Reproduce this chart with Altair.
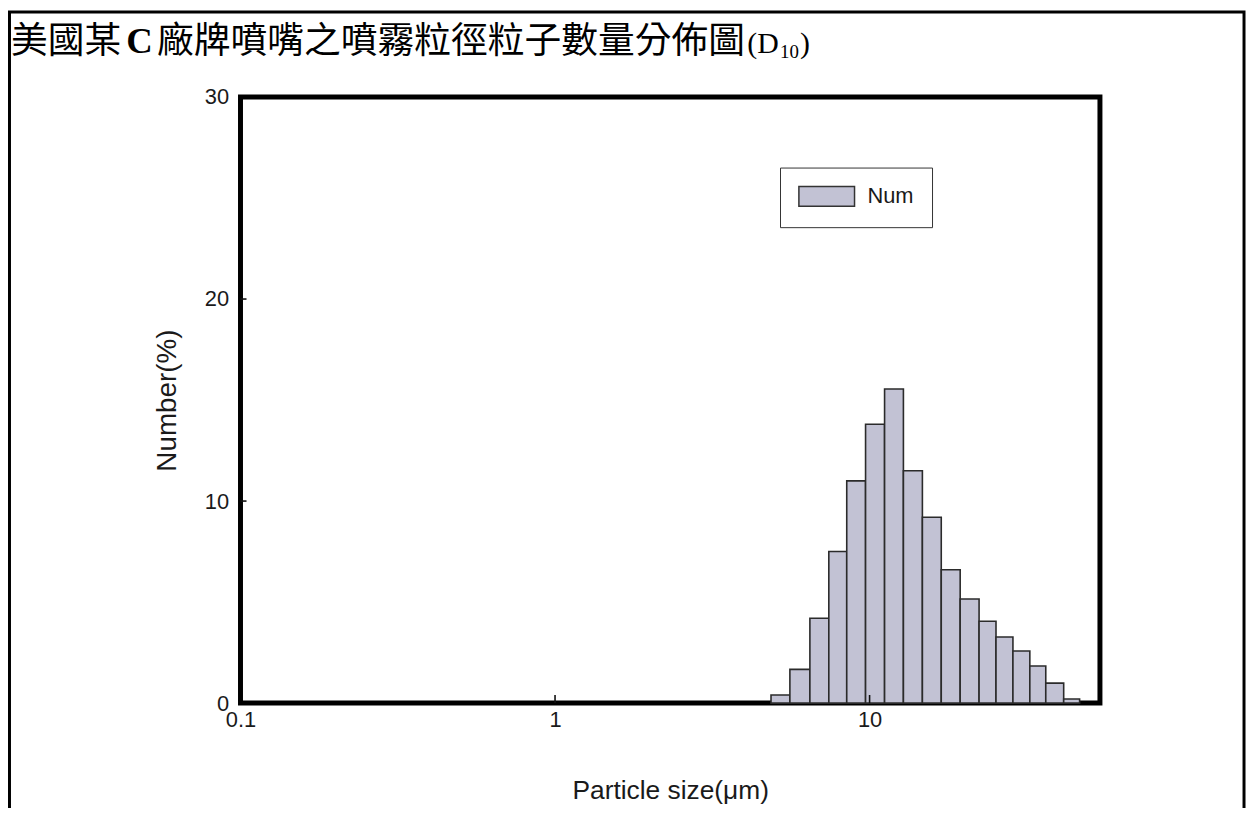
import altair as alt
import pandas as pd

# ---- data ----
bin_edges = [4.86, 5.58, 6.46, 7.42, 8.46, 9.71, 11.16, 12.81, 14.72, 16.90,
             19.41, 22.29, 25.23, 28.56, 32.32, 36.32, 41.41, 46.53]
number_pct = [0.4, 1.67, 4.2, 7.5, 11.0, 13.8, 15.55, 11.5, 9.2, 6.6,
              5.15, 4.05, 3.27, 2.58, 1.84, 0.99, 0.2]
series_name = "Num"
x_tick_values = [0.1, 1, 10]
y_tick_values = [0, 10, 20, 30]
x_inner_ticks = [1, 10]
y_inner_ticks = [10, 20]

title_parts = ["美國某", "C", "廠牌噴嘴之噴霧粒徑粒子數量分佈圖", "(D", "10", ")"]

LEFT, TOP = 234, 87
W, H = 865, 610
FONT = "Liberation Sans"
PX = 8 + LEFT   # page x of plot origin
PY = 8 + TOP    # page y of plot origin

bars = pd.DataFrame({
    "lo": bin_edges[:-1],
    "hi": bin_edges[1:],
    "num": number_pct,
    "base": [0] * len(number_pct),
    "series": [series_name] * len(number_pct),
})

xscale = alt.Scale(type="log", domain=[0.1, 54], nice=False)
yscale = alt.Scale(domain=[0, 30], nice=False)

bar = alt.Chart(bars).mark_rect(stroke="#2b2b2b", strokeWidth=1.6).encode(
    x=alt.X("lo:Q", scale=xscale,
            axis=alt.Axis(values=x_tick_values, format="~g", title="Particle size(μm)",
                          labelFont=FONT, labelFontSize=22, labelColor="#1a1a1a",
                          labelPadding=7, labelFlush=False, labelOverlap=False,
                          titleFont=FONT, titleFontSize=26.5, titleFontWeight="normal",
                          titleColor="#1a1a1a", titlePadding=47,
                          domain=False, ticks=False, grid=False)),
    x2="hi:Q",
    y=alt.Y("num:Q", scale=yscale,
            axis=alt.Axis(values=y_tick_values, title="Number(%)",
                          labelFont=FONT, labelFontSize=22, labelColor="#1a1a1a",
                          labelPadding=12, labelFlush=False,
                          titleFont=FONT, titleFontSize=28, titleFontWeight="normal",
                          titleColor="#1a1a1a", titlePadding=23,
                          domain=False, ticks=False, grid=False)),
    y2="base:Q",
    color=alt.Color("series:N",
                    scale=alt.Scale(domain=[series_name], range=["#c2c2d4"]),
                    legend=alt.Legend(orient="none", legendX=543, legendY=71, title=None,
                                      symbolType="M -2.8 -1 L 2.8 -1 L 2.8 1 L -2.8 1 Z",
                                      symbolSize=400, symbolOffset=18,
                                      symbolStrokeColor="#333",
                                      symbolStrokeWidth=1.5, symbolOpacity=1,
                                      labelFont=FONT, labelFontSize=22, labelColor="#1a1a1a",
                                      labelOffset=30, padding=18,
                                      strokeColor="#333", fillColor="white")),
)

xt = pd.DataFrame({"x": x_inner_ticks, "y0": [0] * 2, "y1": [0.4] * 2})
xticks = alt.Chart(xt).mark_rule(color="#111", strokeWidth=1.6).encode(
    x=alt.X("x:Q", scale=xscale), y=alt.Y("y0:Q", scale=yscale), y2="y1:Q")

yt = pd.DataFrame({"y": y_inner_ticks, "x0": [0.1] * 2, "x1": [0.1045] * 2})
yticks = alt.Chart(yt).mark_rule(color="#111", strokeWidth=1.6).encode(
    y=alt.Y("y:Q", scale=yscale), x=alt.X("x0:Q", scale=xscale), x2="x1:Q")

def txt(s, x, y, font, size, weight="normal"):
    return alt.Chart(pd.DataFrame({"t": [s]})).mark_text(
        align="left", baseline="alphabetic", font=font, fontSize=size,
        fontWeight=weight, color="#000").encode(
        text="t:N", x=alt.value(x - PX), y=alt.value(y - PY))

TB = 51  # page baseline of the title (keeps the CJK font box inside the page)
title_layers = [
    txt(title_parts[0], 11, TB, "Noto Sans CJK TC", 37),
    txt(title_parts[1], 127, TB, "Liberation Serif", 37, "bold"),
    txt(title_parts[2], 158, TB, "Noto Sans CJK TC", 37),
    txt(title_parts[3], 752, TB, "Liberation Serif", 30),
    txt(title_parts[4], 785, TB + 5, "Liberation Serif", 19),
    txt(title_parts[5], 805, TB, "Liberation Serif", 30),
]

border = alt.Chart(pd.DataFrame({"b": [0]})).mark_rect(
    fill="white", fillOpacity=0, stroke="#000", strokeWidth=3).encode(
    x=alt.value(9.5 - PX), x2=alt.value(1252 - PX),
    y=alt.value(9.5 - PY), y2=alt.value(900))

chart = alt.layer(border, bar, xticks, yticks, *title_layers).properties(
    width=W, height=H,
    autosize=alt.AutoSizeParams(type="none"),
    padding={"left": LEFT, "top": TOP, "right": 1247 - LEFT - W, "bottom": 103},
).configure_view(stroke="#000", strokeWidth=5)

chart.save("out.html", embed_options={"renderer": "svg", "actions": False})
